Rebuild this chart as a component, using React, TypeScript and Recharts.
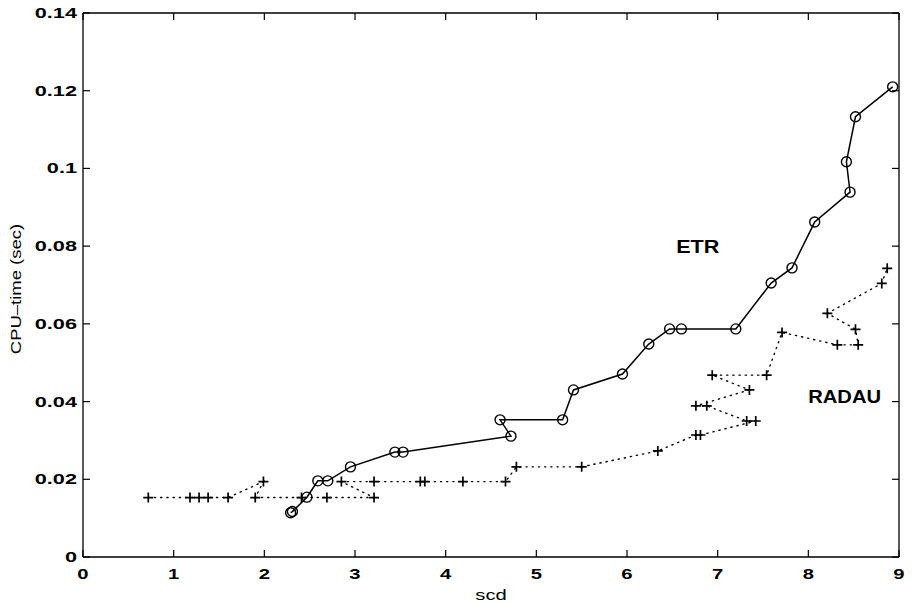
import React from 'react';
import { LineChart, Line, XAxis, YAxis, ReferenceDot } from 'recharts';

// ETR series (circles, solid)
const etrX = [2.29, 2.31, 2.47, 2.59, 2.70, 2.95, 3.44, 3.53, 4.72, 4.60, 5.29, 5.41, 5.95, 6.24, 6.47, 6.60, 7.20, 7.59, 7.82, 8.07, 8.46, 8.42, 8.52, 8.93];
const etrY = [0.0114, 0.0117, 0.0154, 0.0196, 0.0196, 0.0232, 0.0270, 0.0270, 0.0311, 0.0353, 0.0353, 0.0430, 0.0471, 0.0548, 0.0587, 0.0587, 0.0587, 0.0705, 0.0744, 0.0862, 0.0939, 0.1017, 0.1133, 0.1210];

// RADAU series (plus, dotted)
const radauX = [0.72, 1.18, 1.28, 1.38, 1.60, 1.99, 1.90, 2.41, 2.69, 3.21, 2.85, 3.21, 3.72, 3.77, 4.19, 4.66, 4.78, 5.50, 6.34, 6.76, 6.81, 7.42, 7.32, 6.88, 6.76, 7.35, 6.94, 7.54, 7.71, 8.32, 8.55, 8.52, 8.21, 8.81, 8.87];
const radauY = [0.0153, 0.0153, 0.0153, 0.0153, 0.0153, 0.0194, 0.0153, 0.0153, 0.0153, 0.0153, 0.0194, 0.0194, 0.0194, 0.0194, 0.0194, 0.0194, 0.0232, 0.0232, 0.0273, 0.0314, 0.0314, 0.0350, 0.0350, 0.0389, 0.0389, 0.0430, 0.0468, 0.0468, 0.0578, 0.0546, 0.0546, 0.0586, 0.0627, 0.0704, 0.0743];

const xTicks = [0, 1, 2, 3, 4, 5, 6, 7, 8, 9];
const yTicks = [0, 0.02, 0.04, 0.06, 0.08, 0.1, 0.12, 0.14];
const yTickLabels = ['0', '0.02', '0.04', '0.06', '0.08', '0.1', '0.12', '0.14'];

const seriesLabels = [
  { text: 'ETR', x: 6.78, y: 0.0800, sx: 1.2 },
  { text: 'RADAU', x: 8.40, y: 0.0412, sx: 1.12 },
];

const etrData = etrX.map((x, i) => ({ x, y: etrY[i] }));
const radauData = radauX.map((x, i) => ({ x, y: radauY[i] }));

const FONT = '"Liberation Sans", Arial, Helvetica, sans-serif';
const TL = 7;

const SText = (props: any) => {
  const { x, y, sx = 1, anchor = 'middle', size = 15, weight = 'normal', rotate = 0, children } = props;
  return (
    <text
      transform={`translate(${x},${y}) rotate(${rotate}) scale(${sx},1)`}
      x={0}
      y={0}
      textAnchor={anchor}
      fontSize={size}
      fontWeight={weight}
      fontFamily={FONT}
      fill="#000"
    >
      {children}
    </text>
  );
};

const BottomTick = (props: any) => {
  const { x, y, payload } = props;
  return (
    <g>
      <line x1={x} y1={y} x2={x} y2={y - TL} stroke="#000" strokeWidth={1.2} />
      <SText x={x} y={y + 21.5} sx={1.35} size={15} weight="bold">
        {payload.value}
      </SText>
    </g>
  );
};

const TopTick = (props: any) => {
  const { x, y } = props;
  return <line x1={x} y1={y} x2={x} y2={y + TL} stroke="#000" strokeWidth={1.2} />;
};

const LeftTick = (props: any) => {
  const { x, y, payload } = props;
  const idx = yTicks.indexOf(payload.value);
  const label = idx >= 0 ? yTickLabels[idx] : String(payload.value);
  return (
    <g>
      <line x1={x} y1={y} x2={x + TL} y2={y} stroke="#000" strokeWidth={1.2} />
      <SText x={x - 6} y={y + 5} sx={1.55} size={14} weight="bold" anchor="end">
        {label}
      </SText>
    </g>
  );
};

const RightTick = (props: any) => {
  const { x, y } = props;
  return <line x1={x} y1={y} x2={x - TL} y2={y} stroke="#000" strokeWidth={1.2} />;
};

const CircleDot = (props: any) => {
  const { cx, cy, index } = props;
  if (cx == null || cy == null) return <g key={index} />;
  return <circle key={index} cx={cx} cy={cy} r={5} fill="none" stroke="#000" strokeWidth={1.4} />;
};

const PlusDot = (props: any) => {
  const { cx, cy, index } = props;
  if (cx == null || cy == null) return <g key={index} />;
  return (
    <path key={index} d={`M${cx - 5},${cy}H${cx + 5}M${cx},${cy - 5}V${cy + 5}`} stroke="#000" strokeWidth={1.7} fill="none" />
  );
};

export default function App() {
  return (
    <div style={{ position: 'absolute', left: 0, top: 0, width: 912, height: 605 }}>
      <LineChart width={912} height={605} margin={{ top: 12, right: 12, bottom: 0, left: 0 }}>
        <XAxis
          dataKey="x"
          type="number"
          domain={[0, 9]}
          ticks={xTicks}
          interval={0}
          allowDataOverflow
          height={48}
          tickSize={0}
          tickMargin={0}
          tickLine={false}
          axisLine={{ stroke: '#000', strokeWidth: 1.3 }}
          tick={<BottomTick />}
          label={(p: any) => {
            const vb = p.viewBox || {};
            return (
              <SText x={vb.x + vb.width / 2} y={vb.y + 43} sx={1.35} size={15}>
                scd
              </SText>
            );
          }}
        />
        <XAxis
          xAxisId="top"
          orientation="top"
          dataKey="x"
          type="number"
          domain={[0, 9]}
          ticks={xTicks}
          interval={0}
          allowDataOverflow
          height={1}
          tickSize={0}
          tickMargin={0}
          tickLine={false}
          axisLine={{ stroke: '#000', strokeWidth: 1.3 }}
          tick={<TopTick />}
        />
        <YAxis
          type="number"
          domain={[0, 0.14]}
          ticks={yTicks}
          interval={0}
          allowDataOverflow
          width={83}
          tickSize={0}
          tickMargin={0}
          tickLine={false}
          axisLine={{ stroke: '#000', strokeWidth: 1.3 }}
          tick={<LeftTick />}
          label={(p: any) => {
            const vb = p.viewBox || {};
            const cy = vb.y + vb.height / 2 + 4;
            return (
              <SText x={20.5} y={cy} rotate={-90} sx={1.32} size={14}>
                CPU–time (sec)
              </SText>
            );
          }}
        />
        <YAxis
          yAxisId="right"
          orientation="right"
          type="number"
          domain={[0, 0.14]}
          ticks={yTicks}
          interval={0}
          allowDataOverflow
          width={1}
          tickSize={0}
          tickMargin={0}
          tickLine={false}
          axisLine={{ stroke: '#000', strokeWidth: 1.3 }}
          tick={<RightTick />}
        />
        <Line
          xAxisId="top"
          yAxisId="right"
          data={etrData}
          dataKey="y"
          type="linear"
          stroke="none"
          dot={false}
          activeDot={false}
          legendType="none"
          isAnimationActive={false}
        />
        <Line
          data={radauData}
          dataKey="y"
          type="linear"
          stroke="#000"
          strokeWidth={1.4}
          strokeDasharray="1.2 5"
          strokeLinecap="round"
          dot={<PlusDot />}
          activeDot={false}
          isAnimationActive={false}
        />
        <Line
          data={etrData}
          dataKey="y"
          type="linear"
          stroke="#000"
          strokeWidth={1.5}
          dot={<CircleDot />}
          activeDot={false}
          isAnimationActive={false}
        />
        {seriesLabels.map((l) => (
          <ReferenceDot
            key={l.text}
            x={l.x}
            y={l.y}
            r={0.5}
            fill="none"
            stroke="none"
            label={(p: any) => {
              const vb = p.viewBox || {};
              const cx = vb.x + (vb.width || 0) / 2;
              const cy = vb.y + (vb.height || 0) / 2;
              return (
                <SText x={cx} y={cy + 6.5} sx={l.sx} size={18} weight="bold">
                  {l.text}
                </SText>
              );
            }}
          />
        ))}
      </LineChart>
    </div>
  );
}
